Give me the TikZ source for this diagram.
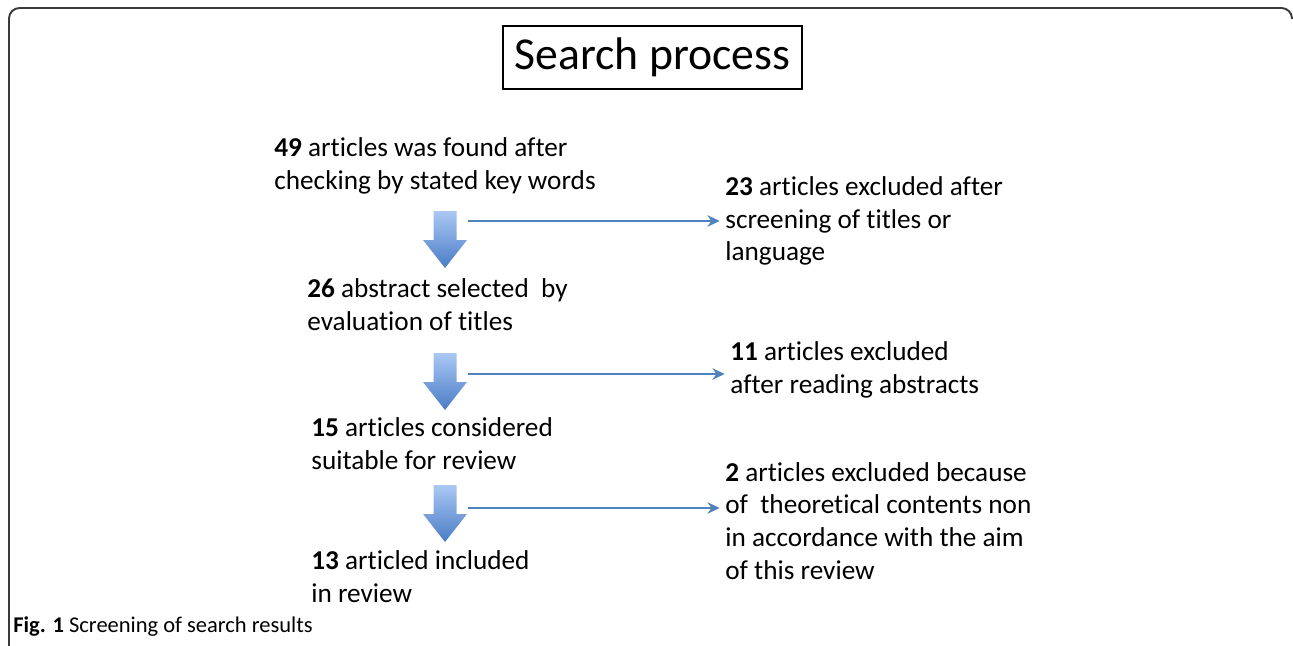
\documentclass[tikz,border=0pt]{standalone}
\usepackage{fontspec}
\setmainfont{Carlito}[Ligatures=NoCommon]
\usetikzlibrary{arrows.meta}
\definecolor{arrowblue}{HTML}{4F81BD}
\definecolor{shadetop}{HTML}{AAC8F3}
\definecolor{shadebot}{HTML}{4A7CC6}
\definecolor{framegray}{HTML}{3A3A3A}
\tikzset{
  steptext/.style={anchor=west, align=left, inner sep=0pt, font=\fontsize{15.5}{18.7}\selectfont},
  exclarrow/.style={arrowblue, line width=1.1pt, shorten >=3pt, -{Stealth[length=7pt, width=6.5pt]}},
  blockarrow/.style={top color=shadetop, bottom color=shadebot, draw=none},
}
\begin{document}
\begin{tikzpicture}[x=0.02cm, y=-0.02cm]
  \useasboundingbox (0,0) rectangle (1293,645);
  % frame and title
  \draw[framegray, line width=1.1pt, rounded corners=6pt] (9,660) -- (9,8) -- (1292,8) -- (1292,19);
  \node[draw, line width=1.1pt, minimum width=170.5pt, minimum height=35.7pt, inner sep=0pt,
        font=\fontsize{26}{30}\selectfont] (title) at (652.5,57.5) {Search process};
  % main column
  \node[steptext] (t1) at (274,166) {\textbf{49} articles was found after\\checking by stated key words};
  \node[steptext] (t2) at (307,305) {\textbf{26} abstract selected\ \ by\\evaluation of titles};
  \node[steptext] (t3) at (311,444) {\textbf{15} articles considered\\suitable for review};
  \node[steptext] (t4) at (311,577) {\textbf{13} articled included\\in review};
  % excluded
  \node[steptext] (ex1) at (725,221) {\textbf{23} articles excluded after\\screening of titles or\\language};
  \node[steptext] (ex2) at (730,370) {\textbf{11} articles excluded\\after reading abstracts};
  \node[steptext] (ex3) at (725,521) {\textbf{2} articles excluded because\\of\ \ theoretical contents non\\in accordance with the aim\\of this review};
  % block arrows
  \coordinate (b1) at (445,211);
  \coordinate (b2) at (445,353);
  \coordinate (b3) at (445,485);
  \shade[blockarrow] (b1) ++(-11.5,0) -- ++(23,0) -- ++(0,29) -- ++(10.5,0) -- ++(-22,28) -- ++(-22,-28) -- ++(10.5,0) -- cycle;
  \shade[blockarrow] (b2) ++(-11.5,0) -- ++(23,0) -- ++(0,29) -- ++(10.5,0) -- ++(-22,28) -- ++(-22,-28) -- ++(10.5,0) -- cycle;
  \shade[blockarrow] (b3) ++(-11.5,0) -- ++(23,0) -- ++(0,29) -- ++(10.5,0) -- ++(-22,28) -- ++(-22,-28) -- ++(10.5,0) -- cycle;
  % side arrows
  \coordinate (s1) at (468,221);
  \coordinate (s2) at (468,374);
  \coordinate (s3) at (468,508);
  \draw[exclarrow] (s1) -- (s1 -| ex1.west);
  \draw[exclarrow] (s2) -- (s2 -| ex2.west);
  \draw[exclarrow] (s3) -- (s3 -| ex3.west);
  % caption
  \node[anchor=west, inner sep=0pt, font=\fontsize{12.8}{15}\selectfont] (cap) at (13,627) {\textbf{Fig. 1} Screening of search results};
\end{tikzpicture}
\end{document}
